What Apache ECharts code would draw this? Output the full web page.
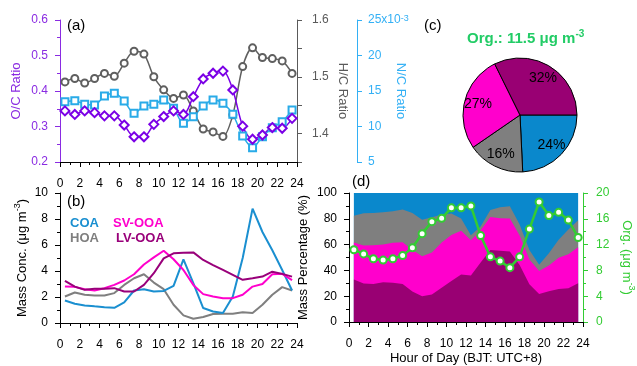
<!DOCTYPE html>
<html>
<head>
<meta charset="utf-8">
<script src="https://cdn.jsdelivr.net/npm/echarts@6/dist/echarts.min.js"></script>
<style>
  html, body { margin: 0; padding: 0; background: #fff; }
  #chart { width: 637px; height: 366px; }
</style>
</head>
<body>
<div id="chart"></div>
<script>
// Hour of day (bin centres, BJT)
const hours = [0.5, 1.5, 2.5, 3.5, 4.5, 5.5, 6.5, 7.5, 8.5, 9.5, 10.5, 11.5,
               12.5, 13.5, 14.5, 15.5, 16.5, 17.5, 18.5, 19.5, 20.5, 21.5, 22.5, 23.5];

// (a) elemental ratios
const ocRatio = [0.344, 0.334, 0.344, 0.339, 0.330, 0.330, 0.304, 0.271, 0.271, 0.306, 0.328, 0.344,
                 0.334, 0.384, 0.434, 0.450, 0.456, 0.403, 0.301, 0.264, 0.276, 0.297, 0.295, 0.323];
const hcRatio = [1.491, 1.497, 1.489, 1.497, 1.506, 1.501, 1.524, 1.545, 1.540, 1.500, 1.477, 1.462,
                 1.468, 1.440, 1.408, 1.403, 1.395, 1.433, 1.518, 1.551, 1.534, 1.532, 1.528, 1.506];
const ncRatio = [13.50, 13.64, 13.13, 13.03, 14.30, 14.68, 13.59, 11.86, 12.89, 13.13, 13.74, 12.57,
                 10.45, 11.39, 12.89, 13.74, 13.27, 11.72, 8.67, 7.02, 8.57, 9.84, 10.68, 12.33]; // x10^-3

// (b) factor mass concentrations, ug m^-3
const coa   = [1.73, 1.48, 1.35, 1.28, 1.22, 1.17, 1.58, 2.50, 2.60, 2.42, 2.47, 2.86,
               4.90, 3.06, 1.15, 0.89, 0.77, 2.04, 5.00, 8.80, 7.00, 5.60, 4.08, 2.50];
const hoa   = [2.04, 2.35, 2.17, 2.12, 2.12, 2.30, 2.93, 3.44, 3.75, 3.11, 2.60, 1.40,
               0.59, 0.33, 0.46, 0.69, 0.71, 0.71, 0.82, 0.77, 1.40, 2.17, 2.76, 2.50];
const svooa = [2.80, 2.78, 2.60, 2.50, 2.68, 2.93, 3.27, 3.75, 4.50, 5.05, 5.56, 4.90,
               4.08, 2.93, 2.22, 2.04, 1.91, 1.91, 2.17, 2.80, 3.00, 3.75, 3.78, 3.30];
const lvooa = [3.24, 2.80, 2.55, 2.63, 2.63, 2.68, 2.42, 2.42, 2.93, 3.83, 4.97, 5.36,
               5.40, 5.43, 4.85, 4.46, 4.08, 3.70, 3.32, 3.44, 3.57, 3.95, 3.78, 3.57];

// (d) total organics, ug m^-3
const orgTotal = [11.2, 10.56, 9.8, 9.6, 9.8, 10.3, 11.5, 13.7, 15.56, 16.07, 17.7, 17.7,
                  18.0, 13.4, 10.1, 9.44, 8.42, 10.1, 14.4, 18.6, 16.5, 17.0, 15.8, 13.1];

// (c) mean composition
const pieNames   = ['COA', 'HOA', 'SV-OOA', 'LV-OOA'];
const piePercent = [24, 16, 27, 32];
const orgMean    = '11.5';

const C = {
  oc: '#7b00e6', ocAxis: '#8a2be2',
  hc: '#5f5f5f', hcAxis: '#5a5a5a',
  nc: '#29abe8', ncAxis: '#33b0f5',
  coa: '#0a88cc', hoa: '#7f7f7f', sv: '#ff00cc', lv: '#990073',
  coaLine: '#1a8fd0', lvLine: '#99007a',
  org: '#33cc33', orgText: '#22cc66'
};
const pieColors = [C.coa, C.hoa, C.sv, C.lv];
const FONT = 'Liberation Sans, Arial, sans-serif';

const pairs = arr => hours.map((h, i) => [h, arr[i]]);

// cumulative mass fractions (%), stacked from LV-OOA at the bottom to COA on top
const totals = hours.map((_, i) => coa[i] + hoa[i] + svooa[i] + lvooa[i]);
const stackOrder = [lvooa, svooa, hoa, coa];
const cumulative = stackOrder.map((_, k) =>
  hours.map((h, i) => {
    let s = 0;
    for (let j = 0; j <= k; j++) s += stackOrder[j][i];
    return [h, s / totals[i] * 100];
  }));
const layerColors = [C.lv, C.sv, C.hoa, C.coa];

const sup = { fontSize: 9, lineHeight: 9, verticalAlign: 'top', fontFamily: FONT };

function hourAxis(grid, withName) {
  return {
    type: 'value', gridIndex: grid, min: 0, max: 24, interval: 2,
    axisLine: { show: true, onZero: false, lineStyle: { color: '#000', width: 1 } },
    axisTick: { show: true, length: 5, lineStyle: { color: '#000' } },
    minorTick: { show: true, splitNumber: 2, length: 3, lineStyle: { color: '#000' } },
    splitLine: { show: false },
    axisLabel: { fontSize: 12, color: '#000', margin: 16, fontFamily: FONT },
    name: withName ? 'Hour of Day (BJT: UTC+8)' : '',
    nameLocation: 'middle', nameGap: 30, nameMoveOverlap: false,
    nameTextStyle: { fontSize: 13, color: '#000', fontFamily: FONT }
  };
}

function valueAxis(opts) {
  const col = opts.color || '#000';
  return Object.assign({
    type: 'value',
    axisLine: { show: true, onZero: false, lineStyle: { color: col, width: 1 } },
    axisTick: { show: true, length: 5, lineStyle: { color: col } },
    minorTick: { show: !!opts.minor, splitNumber: 2, length: 3, lineStyle: { color: col } },
    splitLine: { show: false },
    axisLabel: Object.assign({ fontSize: 12, color: col, margin: 12, fontFamily: FONT, rich: { s: Object.assign({ color: col }, sup) } }, opts.label || {}),
    nameLocation: 'middle', nameMoveOverlap: false,
    nameTextStyle: { fontSize: 13, color: col, fontFamily: FONT, lineHeight: 18, rich: { s: Object.assign({ color: col }, sup) } }
  }, opts.axis);
}

const option = {
  animation: false,
  backgroundColor: '#fff',
  textStyle: { fontFamily: FONT },
  grid: [
    { left: 60, top: 20, width: 237, height: 142 },
    { left: 60, top: 193, width: 237, height: 130 },
    { left: 349, top: 193, width: 236, height: 130 }
  ],
  title: {
    text: 'Org.: ' + orgMean + ' μg m{s|-3}',
    left: 462, top: 24,
    textStyle: {
      fontSize: 15, fontWeight: 'bold', color: C.orgText, fontFamily: FONT, lineHeight: 20,
      rich: { s: { fontSize: 10, fontWeight: 'bold', color: C.orgText, lineHeight: 10, verticalAlign: 'top', fontFamily: FONT } }
    }
  },
  xAxis: [hourAxis(0, false), hourAxis(1, false), hourAxis(2, true)],
  yAxis: [
    valueAxis({ color: C.ocAxis, minor: true, axis: { gridIndex: 0, position: 'left', min: 0.2, max: 0.6, interval: 0.1, name: 'O/C Ratio', nameGap: 35 },
                label: { formatter: v => v.toFixed(1) } }),
    valueAxis({ color: C.hcAxis, axis: { gridIndex: 0, position: 'right', min: 1.35, max: 1.6, interval: 0.05, name: 'H/C Ratio', nameGap: 37, nameRotate: -90 },
                label: { margin: 15, formatter: v => (Math.abs(v * 10 - Math.round(v * 10)) < 1e-6 ? v.toFixed(1) : '') } }),
    valueAxis({ color: C.ncAxis, axis: { gridIndex: 0, position: 'right', offset: 60, min: 5, max: 25, interval: 5, name: 'N/C Ratio', nameGap: 35, nameRotate: -90 },
                label: { margin: 11, formatter: v => (v === 25 ? '25x10{s|-3}' : String(v)) } }),
    valueAxis({ color: '#000', minor: true, axis: { gridIndex: 1, position: 'left', min: 0, max: 10, interval: 2, name: 'Mass Conc. (μg m{s|-3})', nameGap: 29 } }),
    valueAxis({ color: '#000', minor: true, axis: { gridIndex: 2, position: 'left', min: 0, max: 100, interval: 20, name: 'Mass Percentage (%)', nameGap: 37 } }),
    valueAxis({ color: C.org, minor: true, axis: { gridIndex: 2, position: 'right', min: 0, max: 20, interval: 4, name: 'Org. (μg m{s|-3})', nameGap: 35, nameRotate: -90 },
                label: { margin: 13 } })
  ],
  graphic: [
    { type: 'text', x: 67, y: 26, style: { text: '(a)', fontSize: 15, fill: '#000', fontFamily: FONT, verticalAlign: 'middle' } },
    { type: 'text', x: 67, y: 202, style: { text: '(b)', fontSize: 15, fill: '#000', fontFamily: FONT, verticalAlign: 'middle' } },
    { type: 'text', x: 424, y: 25.5, style: { text: '(c)', fontSize: 15, fill: '#000', fontFamily: FONT, verticalAlign: 'middle' } },
    { type: 'text', x: 352, y: 181.5, style: { text: '(d)', fontSize: 15, fill: '#000', fontFamily: FONT, verticalAlign: 'middle' } },
    { type: 'text', x: 70, y: 223, style: { text: 'COA', fontSize: 13, fontWeight: 'bold', fill: C.coaLine, fontFamily: FONT, verticalAlign: 'middle' } },
    { type: 'text', x: 113, y: 223, style: { text: 'SV-OOA', fontSize: 13, fontWeight: 'bold', fill: C.sv, fontFamily: FONT, verticalAlign: 'middle' } },
    { type: 'text', x: 70, y: 238.5, style: { text: 'HOA', fontSize: 13, fontWeight: 'bold', fill: C.hoa, fontFamily: FONT, verticalAlign: 'middle' } },
    { type: 'text', x: 116, y: 238.5, style: { text: 'LV-OOA', fontSize: 13, fontWeight: 'bold', fill: C.lvLine, fontFamily: FONT, verticalAlign: 'middle' } }
  ],
  series: [
    // (a) ratios
    { type: 'line', xAxisIndex: 0, yAxisIndex: 1, data: pairs(hcRatio), smooth: 0.3,
      symbol: 'emptyCircle', symbolSize: 7, lineStyle: { color: C.hc, width: 1.5 }, itemStyle: { color: C.hc, borderWidth: 1 } },
    { type: 'line', xAxisIndex: 0, yAxisIndex: 2, data: pairs(ncRatio), smooth: 0.3,
      symbol: 'emptyRect', symbolSize: 7, lineStyle: { color: C.nc, width: 1.5 }, itemStyle: { color: C.nc, borderWidth: 1 } },
    { type: 'line', xAxisIndex: 0, yAxisIndex: 0, data: pairs(ocRatio), smooth: 0.3,
      symbol: 'emptyDiamond', symbolSize: 9, lineStyle: { color: C.oc, width: 1.5 }, itemStyle: { color: C.oc, borderWidth: 1 } },

    // (b) factor concentrations
    { type: 'line', xAxisIndex: 1, yAxisIndex: 3, data: pairs(hoa), symbol: 'none', lineStyle: { color: C.hoa, width: 2 } },
    { type: 'line', xAxisIndex: 1, yAxisIndex: 3, data: pairs(coa), symbol: 'none', lineStyle: { color: C.coaLine, width: 2 } },
    { type: 'line', xAxisIndex: 1, yAxisIndex: 3, data: pairs(svooa), symbol: 'none', lineStyle: { color: C.sv, width: 2 } },
    { type: 'line', xAxisIndex: 1, yAxisIndex: 3, data: pairs(lvooa), symbol: 'none', lineStyle: { color: C.lvLine, width: 2 } },

    // (d) mass fraction layers, drawn top layer first so lower layers paint over it
    ...[3, 2, 1, 0].map(k => ({
      type: 'line', xAxisIndex: 2, yAxisIndex: 4, data: cumulative[k], symbol: 'none',
      lineStyle: { width: 0 }, areaStyle: { color: layerColors[k], opacity: 1, origin: 'start' }
    })),
    { type: 'line', xAxisIndex: 2, yAxisIndex: 5, data: pairs(orgTotal), z: 5,
      symbol: 'emptyCircle', symbolSize: 7, lineStyle: { color: C.org, width: 2.5 }, itemStyle: { color: C.org, borderWidth: 1.5 } },

    // (c) mean composition pie
    { type: 'pie', center: [520, 115], radius: 57, startAngle: 0, clockwise: true, silent: true,
      label: { show: false }, labelLine: { show: false },
      itemStyle: { borderColor: '#000', borderWidth: 1 },
      data: pieNames.map((n, i) => ({ name: n, value: piePercent[i], itemStyle: { color: pieColors[i] } })) },
    { type: 'pie', center: [520, 115], radius: [24, 57], startAngle: 0, clockwise: true, silent: true,
      itemStyle: { color: 'rgba(0,0,0,0)', borderWidth: 0 },
      label: { show: true, position: 'inside', formatter: '{c}%', fontSize: 14, color: '#000', fontFamily: FONT },
      labelLine: { show: false },
      data: pieNames.map((n, i) => ({ name: n, value: piePercent[i] })) }
  ]
};

const chart = echarts.init(document.getElementById('chart'), null, { renderer: 'canvas' });
chart.setOption(option);
</script>
</body>
</html>
